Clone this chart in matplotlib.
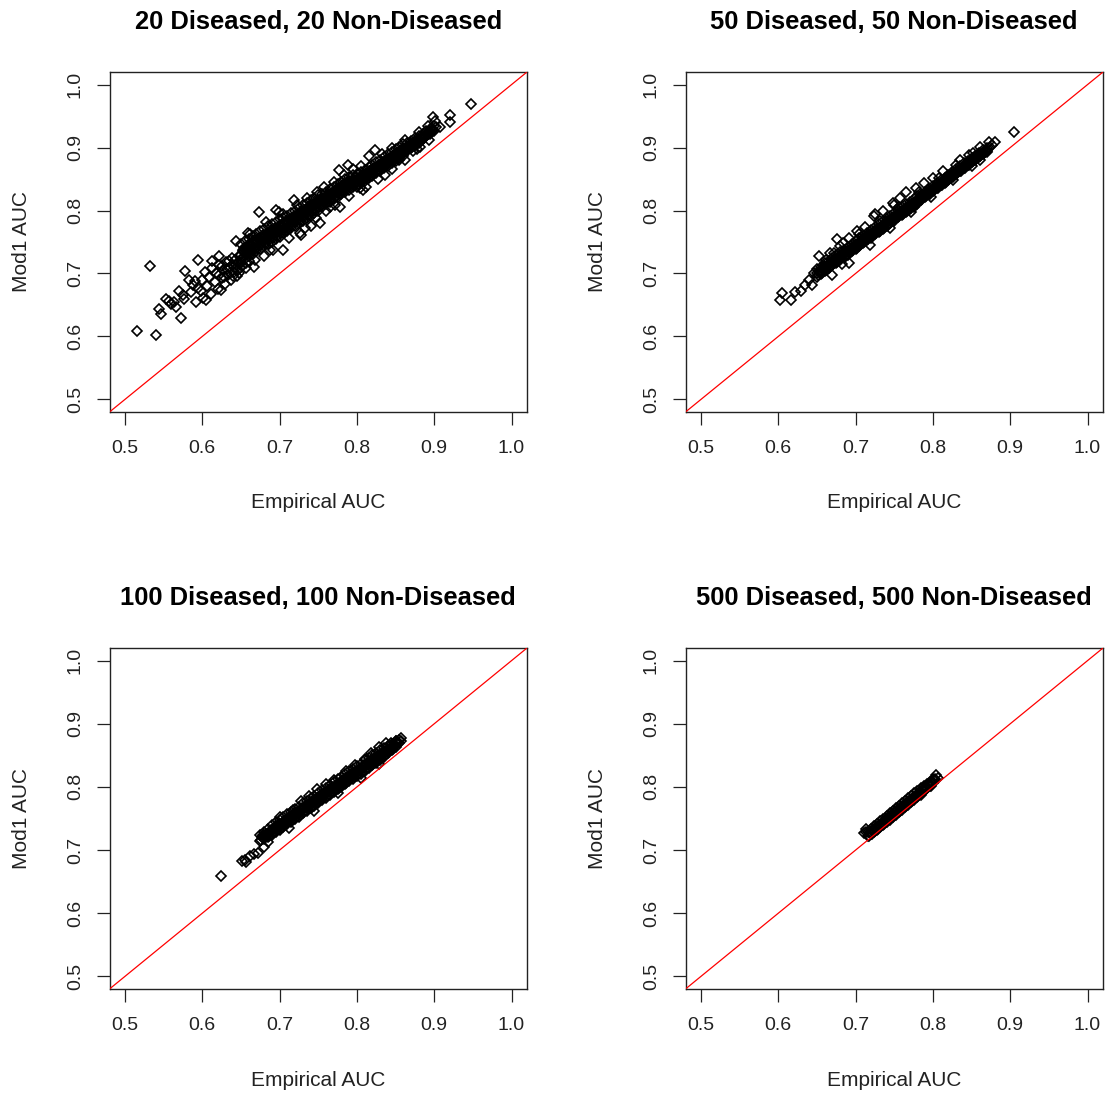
import numpy as np
import matplotlib
matplotlib.use("Agg")
import matplotlib.pyplot as plt

plt.rcParams['font.family'] = ['Liberation Sans', 'DejaVu Sans']

# (empirical AUC, Mod1 AUC) pairs per sample size
auc_20 = [
    (0.515, 0.609), (0.532, 0.712), (0.540, 0.602), (0.544, 0.644), (0.547, 0.636),
    (0.553, 0.660), (0.557, 0.657), (0.559, 0.652), (0.563, 0.655), (0.566, 0.647),
    (0.570, 0.672), (0.573, 0.630), (0.575, 0.666), (0.577, 0.660), (0.578, 0.704),
    (0.583, 0.690), (0.585, 0.671), (0.588, 0.681), (0.590, 0.688), (0.592, 0.655),
    (0.594, 0.677), (0.595, 0.721), (0.598, 0.672), (0.600, 0.690), (0.601, 0.661),
    (0.603, 0.703), (0.605, 0.658), (0.606, 0.680), (0.609, 0.695), (0.611, 0.668),
    (0.612, 0.720), (0.613, 0.708), (0.616, 0.687), (0.618, 0.700), (0.620, 0.676),
    (0.622, 0.727), (0.622, 0.714), (0.624, 0.674), (0.625, 0.693), (0.627, 0.705),
    (0.629, 0.684), (0.631, 0.718), (0.633, 0.698), (0.635, 0.709), (0.637, 0.690),
    (0.639, 0.724), (0.641, 0.703), (0.643, 0.714), (0.644, 0.751), (0.645, 0.696),
    (0.646, 0.706), (0.647, 0.728), (0.649, 0.709), (0.657, 0.709), (0.659, 0.764),
    (0.667, 0.711), (0.673, 0.798), (0.680, 0.727), (0.691, 0.738), (0.696, 0.801),
    (0.699, 0.798), (0.704, 0.738), (0.718, 0.817), (0.726, 0.764), (0.728, 0.761),
    (0.741, 0.775), (0.752, 0.780), (0.765, 0.806), (0.777, 0.865), (0.778, 0.806),
    (0.788, 0.873), (0.804, 0.836), (0.808, 0.833), (0.816, 0.887), (0.824, 0.896),
    (0.836, 0.857), (0.855, 0.880), (0.873, 0.894), (0.881, 0.901), (0.899, 0.948),
    (0.907, 0.933), (0.901, 0.942), (0.921, 0.952), (0.921, 0.940), (0.948, 0.969),
    (0.621, 0.697), (0.626, 0.712), (0.628, 0.694), (0.632, 0.707), (0.634, 0.720),
    (0.636, 0.700), (0.638, 0.713), (0.640, 0.696), (0.642, 0.722), (0.644, 0.708),
    (0.646, 0.717), (0.648, 0.700), (0.652, 0.712), (0.654, 0.726), (0.656, 0.716),
    (0.658, 0.731), (0.661, 0.720), (0.663, 0.737),
    (0.662, 0.762), (0.683, 0.782), (0.705, 0.795), (0.722, 0.808), (0.735, 0.820),
    (0.748, 0.829), (0.758, 0.838), (0.770, 0.846), (0.783, 0.857), (0.795, 0.866),
    (0.805, 0.870), (0.832, 0.889), (0.846, 0.900), (0.862, 0.912), (0.880, 0.924),
    (0.892, 0.935), (0.668, 0.722), (0.688, 0.738), (0.712, 0.757), (0.733, 0.773),
    (0.747, 0.788), (0.760, 0.800), (0.772, 0.809), (0.790, 0.823), (0.812, 0.838),
    (0.827, 0.850), (0.845, 0.866), (0.862, 0.880), (0.878, 0.897), (0.893, 0.912),
    (0.650, 0.719), (0.6525, 0.735), (0.650, 0.747), (0.655, 0.723), (0.6575, 0.739), (0.655, 0.751),
    (0.660, 0.727), (0.6625, 0.743), (0.660, 0.755), (0.665, 0.731), (0.6675, 0.747), (0.665, 0.759),
    (0.670, 0.735), (0.6725, 0.751), (0.670, 0.763), (0.675, 0.739), (0.6775, 0.755), (0.675, 0.767),
    (0.680, 0.743), (0.6825, 0.759), (0.680, 0.771), (0.685, 0.747), (0.6875, 0.763), (0.685, 0.775),
    (0.690, 0.750), (0.6925, 0.766), (0.690, 0.778), (0.695, 0.754), (0.6975, 0.770), (0.695, 0.782),
    (0.700, 0.758), (0.7025, 0.774), (0.700, 0.786), (0.705, 0.764), (0.7075, 0.778), (0.705, 0.788),
    (0.710, 0.768), (0.7125, 0.782), (0.710, 0.792), (0.715, 0.772), (0.7175, 0.786), (0.715, 0.796),
    (0.720, 0.776), (0.7225, 0.790), (0.720, 0.800), (0.725, 0.780), (0.7275, 0.794), (0.725, 0.804),
    (0.730, 0.784), (0.7325, 0.798), (0.730, 0.808), (0.735, 0.788), (0.7375, 0.802), (0.735, 0.812),
    (0.740, 0.792), (0.7425, 0.806), (0.740, 0.816), (0.745, 0.796), (0.7475, 0.810), (0.745, 0.820),
    (0.750, 0.800), (0.7525, 0.814), (0.750, 0.824), (0.755, 0.806), (0.7575, 0.818), (0.755, 0.826),
    (0.760, 0.810), (0.7625, 0.822), (0.760, 0.830), (0.765, 0.814), (0.7675, 0.826), (0.765, 0.834),
    (0.770, 0.818), (0.7725, 0.830), (0.770, 0.838), (0.775, 0.822), (0.7775, 0.834), (0.775, 0.842),
    (0.780, 0.826), (0.7825, 0.838), (0.780, 0.846), (0.785, 0.830), (0.7875, 0.842), (0.785, 0.850),
    (0.790, 0.833), (0.7925, 0.845), (0.790, 0.853), (0.795, 0.837), (0.7975, 0.849), (0.795, 0.857),
    (0.800, 0.838), (0.8025, 0.850), (0.800, 0.858), (0.805, 0.843), (0.8075, 0.854), (0.805, 0.861),
    (0.810, 0.847), (0.8125, 0.858), (0.810, 0.865), (0.815, 0.851), (0.8175, 0.862), (0.815, 0.869),
    (0.820, 0.855), (0.8225, 0.866), (0.820, 0.873), (0.825, 0.859), (0.8275, 0.870), (0.825, 0.877),
    (0.830, 0.863), (0.8325, 0.874), (0.830, 0.881), (0.835, 0.867), (0.8375, 0.878), (0.835, 0.885),
    (0.840, 0.871), (0.8425, 0.882), (0.840, 0.889), (0.845, 0.875), (0.8475, 0.886), (0.845, 0.893),
    (0.850, 0.879), (0.8525, 0.890), (0.850, 0.897), (0.855, 0.883), (0.8575, 0.894), (0.855, 0.901),
    (0.860, 0.887), (0.8625, 0.898), (0.860, 0.905), (0.865, 0.895), (0.8675, 0.903), (0.865, 0.907),
    (0.870, 0.899), (0.8725, 0.907), (0.870, 0.911), (0.875, 0.903), (0.8775, 0.911), (0.875, 0.915),
    (0.880, 0.907), (0.8825, 0.915), (0.880, 0.919), (0.885, 0.913), (0.8875, 0.919), (0.885, 0.921),
    (0.890, 0.918), (0.8925, 0.924), (0.890, 0.926), (0.895, 0.922), (0.8975, 0.928), (0.895, 0.930),
    (0.900, 0.926), (0.9025, 0.932), (0.900, 0.934),
    (0.6513, 0.725), (0.6538, 0.741), (0.6563, 0.729), (0.6588, 0.745), (0.6613, 0.733), (0.6638, 0.749),
    (0.6663, 0.737), (0.6688, 0.753), (0.6713, 0.741), (0.6738, 0.757), (0.6763, 0.745), (0.6788, 0.761),
    (0.6813, 0.749), (0.6838, 0.765), (0.6863, 0.753), (0.6888, 0.769), (0.6913, 0.756), (0.6938, 0.772),
    (0.6963, 0.760), (0.6988, 0.776), (0.7013, 0.764), (0.7038, 0.780), (0.7063, 0.769), (0.7088, 0.783),
    (0.7113, 0.773), (0.7138, 0.787), (0.7163, 0.777), (0.7188, 0.791), (0.7213, 0.781), (0.7238, 0.795),
    (0.7263, 0.785), (0.7288, 0.799), (0.7313, 0.789), (0.7338, 0.803), (0.7363, 0.793), (0.7388, 0.807),
    (0.7413, 0.797), (0.7438, 0.811), (0.7463, 0.801), (0.7488, 0.815), (0.7513, 0.805), (0.7538, 0.819),
    (0.7563, 0.810), (0.7588, 0.822), (0.7613, 0.814), (0.7638, 0.826), (0.7663, 0.818), (0.7688, 0.830),
    (0.7713, 0.822), (0.7738, 0.834), (0.7763, 0.826), (0.7788, 0.838), (0.7813, 0.830), (0.7838, 0.842),
    (0.7863, 0.834), (0.7888, 0.846), (0.7913, 0.837), (0.7938, 0.849), (0.7963, 0.841), (0.7988, 0.853),
    (0.8013, 0.842), (0.8038, 0.854), (0.8063, 0.847), (0.8088, 0.857), (0.8113, 0.851), (0.8138, 0.861),
    (0.8163, 0.855), (0.8188, 0.865), (0.8213, 0.859), (0.8238, 0.869), (0.8263, 0.863), (0.8288, 0.873),
    (0.8313, 0.867), (0.8338, 0.877), (0.8363, 0.871), (0.8388, 0.881), (0.8413, 0.875), (0.8438, 0.885),
    (0.8463, 0.879), (0.8488, 0.889), (0.8513, 0.883), (0.8538, 0.893), (0.8563, 0.887), (0.8588, 0.897),
    (0.8613, 0.891), (0.8638, 0.901), (0.8663, 0.897), (0.8688, 0.905), (0.8713, 0.901), (0.8738, 0.909),
    (0.8763, 0.905), (0.8788, 0.913), (0.8813, 0.909), (0.8838, 0.917), (0.8863, 0.915), (0.8888, 0.919),
    (0.8913, 0.920), (0.8938, 0.924), (0.8963, 0.924), (0.8988, 0.928),
    (0.6506, 0.729), (0.6531, 0.738), (0.6556, 0.733), (0.6581, 0.742), (0.6606, 0.737), (0.6631, 0.746),
    (0.6656, 0.741), (0.6681, 0.750), (0.6706, 0.745), (0.6731, 0.754), (0.6756, 0.749), (0.6781, 0.758),
    (0.6806, 0.753), (0.6831, 0.762), (0.6856, 0.757), (0.6881, 0.766), (0.6906, 0.760), (0.6931, 0.769),
    (0.6956, 0.764), (0.6981, 0.773), (0.7006, 0.768), (0.7031, 0.777), (0.7056, 0.772), (0.7081, 0.781),
    (0.7106, 0.776), (0.7131, 0.785), (0.7156, 0.780), (0.7181, 0.789), (0.7206, 0.784), (0.7231, 0.793),
    (0.7256, 0.788), (0.7281, 0.797), (0.7306, 0.792), (0.7331, 0.801), (0.7356, 0.796), (0.7381, 0.805),
    (0.7406, 0.800), (0.7431, 0.809), (0.7456, 0.804), (0.7481, 0.813), (0.7506, 0.808), (0.7531, 0.817),
    (0.7556, 0.813), (0.7581, 0.820), (0.7606, 0.817), (0.7631, 0.824), (0.7656, 0.821), (0.7681, 0.828),
    (0.7706, 0.825), (0.7731, 0.832), (0.7756, 0.829), (0.7781, 0.836), (0.7806, 0.833), (0.7831, 0.840),
    (0.7856, 0.837), (0.7881, 0.844), (0.7906, 0.840), (0.7931, 0.847), (0.7956, 0.844), (0.7981, 0.851),
    (0.8006, 0.845), (0.8031, 0.852), (0.8056, 0.849), (0.8081, 0.856), (0.8106, 0.853), (0.8131, 0.860),
    (0.8156, 0.857), (0.8181, 0.864), (0.8206, 0.861), (0.8231, 0.868), (0.8256, 0.865), (0.8281, 0.872),
    (0.8306, 0.869), (0.8331, 0.876), (0.8356, 0.873), (0.8381, 0.880), (0.8406, 0.877), (0.8431, 0.884),
    (0.8456, 0.881), (0.8481, 0.888), (0.8506, 0.885), (0.8531, 0.892), (0.8556, 0.889), (0.8581, 0.896),
    (0.8606, 0.893), (0.8631, 0.900), (0.8656, 0.899), (0.8681, 0.904), (0.8706, 0.903), (0.8731, 0.908),
    (0.8756, 0.907), (0.8781, 0.912),
]

auc_50 = [
    (0.602, 0.658), (0.605, 0.669), (0.617, 0.658), (0.621, 0.670), (0.630, 0.672),
    (0.635, 0.682), (0.640, 0.690), (0.643, 0.681), (0.646, 0.700), (0.653, 0.728),
    (0.659, 0.712), (0.662, 0.722), (0.667, 0.732), (0.670, 0.698), (0.676, 0.755),
    (0.680, 0.744), (0.684, 0.748), (0.691, 0.716), (0.691, 0.757), (0.702, 0.767),
    (0.712, 0.774), (0.724, 0.792), (0.725, 0.795), (0.735, 0.800), (0.748, 0.812),
    (0.750, 0.809), (0.758, 0.820), (0.765, 0.829), (0.778, 0.836), (0.788, 0.843),
    (0.800, 0.852), (0.813, 0.862), (0.835, 0.880), (0.847, 0.888), (0.861, 0.901),
    (0.861, 0.880), (0.870, 0.893), (0.873, 0.909), (0.877, 0.904), (0.880, 0.909),
    (0.905, 0.925),
    (0.672, 0.733), (0.705, 0.762), (0.732, 0.784), (0.756, 0.806), (0.782, 0.829),
    (0.808, 0.851), (0.830, 0.872), (0.852, 0.891), (0.683, 0.715), (0.718, 0.746),
    (0.745, 0.772), (0.772, 0.797), (0.798, 0.822), (0.826, 0.848), (0.850, 0.870),
    (0.650, 0.695), (0.6525, 0.703), (0.650, 0.707), (0.655, 0.699), (0.6575, 0.707), (0.655, 0.711),
    (0.660, 0.704), (0.6625, 0.712), (0.660, 0.716), (0.665, 0.708), (0.6675, 0.716), (0.665, 0.720),
    (0.670, 0.713), (0.6725, 0.721), (0.670, 0.725), (0.675, 0.717), (0.6775, 0.725), (0.675, 0.729),
    (0.680, 0.722), (0.6825, 0.730), (0.680, 0.734), (0.685, 0.726), (0.6875, 0.734), (0.685, 0.738),
    (0.690, 0.730), (0.6925, 0.738), (0.690, 0.742), (0.695, 0.735), (0.6975, 0.743), (0.695, 0.747),
    (0.700, 0.739), (0.7025, 0.747), (0.700, 0.751), (0.705, 0.744), (0.7075, 0.752), (0.705, 0.756),
    (0.710, 0.748), (0.7125, 0.756), (0.710, 0.760), (0.715, 0.753), (0.7175, 0.761), (0.715, 0.765),
    (0.720, 0.757), (0.7225, 0.765), (0.720, 0.769), (0.725, 0.762), (0.7275, 0.770), (0.725, 0.774),
    (0.730, 0.766), (0.7325, 0.774), (0.730, 0.778), (0.735, 0.771), (0.7375, 0.779), (0.735, 0.783),
    (0.740, 0.775), (0.7425, 0.783), (0.740, 0.787), (0.745, 0.780), (0.7475, 0.788), (0.745, 0.792),
    (0.750, 0.784), (0.7525, 0.792), (0.750, 0.796), (0.755, 0.789), (0.7575, 0.797), (0.755, 0.801),
    (0.760, 0.793), (0.7625, 0.801), (0.760, 0.805), (0.765, 0.798), (0.7675, 0.806), (0.765, 0.810),
    (0.770, 0.802), (0.7725, 0.810), (0.770, 0.814), (0.775, 0.806), (0.7775, 0.814), (0.775, 0.818),
    (0.780, 0.811), (0.7825, 0.819), (0.780, 0.823), (0.785, 0.817), (0.7875, 0.823), (0.785, 0.825),
    (0.790, 0.822), (0.7925, 0.828), (0.790, 0.830), (0.795, 0.826), (0.7975, 0.832), (0.795, 0.834),
    (0.800, 0.831), (0.8025, 0.837), (0.800, 0.839), (0.805, 0.835), (0.8075, 0.841), (0.805, 0.843),
    (0.810, 0.840), (0.8125, 0.846), (0.810, 0.848), (0.815, 0.844), (0.8175, 0.850), (0.815, 0.852),
    (0.820, 0.849), (0.8225, 0.855), (0.820, 0.857), (0.825, 0.853), (0.8275, 0.859), (0.825, 0.861),
    (0.830, 0.858), (0.8325, 0.864), (0.830, 0.866), (0.835, 0.862), (0.8375, 0.868), (0.835, 0.870),
    (0.840, 0.867), (0.8425, 0.873), (0.840, 0.875), (0.845, 0.872), (0.8475, 0.877), (0.845, 0.878),
    (0.850, 0.877), (0.8525, 0.882), (0.850, 0.883), (0.855, 0.881), (0.8575, 0.886), (0.855, 0.887),
    (0.860, 0.885), (0.8625, 0.890), (0.860, 0.891), (0.865, 0.890), (0.8675, 0.895), (0.865, 0.896),
    (0.870, 0.894), (0.8725, 0.899), (0.870, 0.900),
    (0.6513, 0.697), (0.6538, 0.705), (0.6563, 0.701), (0.6588, 0.709), (0.6613, 0.706), (0.6638, 0.714),
    (0.6663, 0.710), (0.6688, 0.718), (0.6713, 0.715), (0.6738, 0.723), (0.6763, 0.719), (0.6788, 0.727),
    (0.6813, 0.724), (0.6838, 0.732), (0.6863, 0.728), (0.6888, 0.736), (0.6913, 0.732), (0.6938, 0.740),
    (0.6963, 0.737), (0.6988, 0.745), (0.7013, 0.741), (0.7038, 0.749), (0.7063, 0.746), (0.7088, 0.754),
    (0.7113, 0.750), (0.7138, 0.758), (0.7163, 0.755), (0.7188, 0.763), (0.7213, 0.759), (0.7238, 0.767),
    (0.7263, 0.764), (0.7288, 0.772), (0.7313, 0.768), (0.7338, 0.776), (0.7363, 0.773), (0.7388, 0.781),
    (0.7413, 0.777), (0.7438, 0.785), (0.7463, 0.782), (0.7488, 0.790), (0.7513, 0.786), (0.7538, 0.794),
    (0.7563, 0.791), (0.7588, 0.799), (0.7613, 0.795), (0.7638, 0.803), (0.7663, 0.800), (0.7688, 0.808),
    (0.7713, 0.804), (0.7738, 0.812), (0.7763, 0.808), (0.7788, 0.816), (0.7813, 0.813), (0.7838, 0.821),
    (0.7863, 0.818), (0.7888, 0.824), (0.7913, 0.823), (0.7938, 0.829), (0.7963, 0.827), (0.7988, 0.833),
    (0.8013, 0.832), (0.8038, 0.838), (0.8063, 0.836), (0.8088, 0.842), (0.8113, 0.841), (0.8138, 0.847),
    (0.8163, 0.845), (0.8188, 0.851), (0.8213, 0.850), (0.8238, 0.856), (0.8263, 0.854), (0.8288, 0.860),
    (0.8313, 0.859), (0.8338, 0.865), (0.8363, 0.863), (0.8388, 0.869), (0.8413, 0.868), (0.8438, 0.874),
    (0.8463, 0.873), (0.8488, 0.877), (0.8513, 0.878), (0.8538, 0.882), (0.8563, 0.882), (0.8588, 0.886),
    (0.8613, 0.886), (0.8638, 0.890), (0.8663, 0.891), (0.8688, 0.895),
    (0.6506, 0.700), (0.6556, 0.704), (0.6606, 0.709), (0.6656, 0.713), (0.6706, 0.718), (0.6756, 0.722),
    (0.6806, 0.727), (0.6856, 0.731), (0.6906, 0.735), (0.6956, 0.740), (0.7006, 0.744), (0.7056, 0.749),
    (0.7106, 0.753), (0.7156, 0.758), (0.7206, 0.762), (0.7256, 0.767), (0.7306, 0.771), (0.7356, 0.776),
    (0.7406, 0.780), (0.7456, 0.785), (0.7506, 0.789), (0.7556, 0.794), (0.7606, 0.798), (0.7656, 0.803),
    (0.7706, 0.807), (0.7756, 0.811), (0.7806, 0.816), (0.7856, 0.820), (0.7906, 0.825), (0.7956, 0.829),
    (0.8006, 0.834), (0.8056, 0.838), (0.8106, 0.843), (0.8156, 0.847), (0.8206, 0.852), (0.8256, 0.856),
    (0.8306, 0.861), (0.8356, 0.865), (0.8406, 0.870), (0.8456, 0.874), (0.8506, 0.879), (0.8556, 0.883),
    (0.8606, 0.887), (0.8656, 0.892),
]

auc_100 = [
    (0.624, 0.659), (0.652, 0.682), (0.655, 0.684), (0.657, 0.681), (0.662, 0.690),
    (0.667, 0.693), (0.672, 0.695), (0.678, 0.724), (0.680, 0.705), (0.685, 0.712),
    (0.696, 0.738), (0.717, 0.764), (0.728, 0.777), (0.749, 0.796), (0.771, 0.811),
    (0.797, 0.835), (0.810, 0.845), (0.829, 0.864), (0.844, 0.869), (0.851, 0.872),
    (0.857, 0.877),
    (0.700, 0.752), (0.738, 0.786), (0.760, 0.804), (0.786, 0.826), (0.818, 0.853),
    (0.838, 0.869), (0.712, 0.735), (0.745, 0.762), (0.776, 0.790), (0.805, 0.814),
    (0.828, 0.836),
    (0.675, 0.714), (0.6775, 0.721), (0.675, 0.724), (0.680, 0.717), (0.6825, 0.725), (0.680, 0.729),
    (0.685, 0.720), (0.6875, 0.729), (0.685, 0.734), (0.690, 0.724), (0.6925, 0.734), (0.690, 0.740),
    (0.695, 0.728), (0.6975, 0.738), (0.695, 0.744), (0.700, 0.732), (0.7025, 0.742), (0.700, 0.748),
    (0.705, 0.736), (0.7075, 0.746), (0.705, 0.752), (0.710, 0.741), (0.7125, 0.751), (0.710, 0.757),
    (0.715, 0.745), (0.7175, 0.755), (0.715, 0.761), (0.720, 0.749), (0.7225, 0.759), (0.720, 0.765),
    (0.725, 0.753), (0.7275, 0.763), (0.725, 0.769), (0.730, 0.758), (0.7325, 0.768), (0.730, 0.774),
    (0.735, 0.762), (0.7375, 0.772), (0.735, 0.778), (0.740, 0.766), (0.7425, 0.776), (0.740, 0.782),
    (0.745, 0.770), (0.7475, 0.780), (0.745, 0.786), (0.750, 0.775), (0.7525, 0.785), (0.750, 0.791),
    (0.755, 0.779), (0.7575, 0.789), (0.755, 0.795), (0.760, 0.783), (0.7625, 0.793), (0.760, 0.799),
    (0.765, 0.787), (0.7675, 0.797), (0.765, 0.803), (0.770, 0.792), (0.7725, 0.802), (0.770, 0.808),
    (0.775, 0.796), (0.7775, 0.806), (0.775, 0.812), (0.780, 0.800), (0.7825, 0.810), (0.780, 0.816),
    (0.785, 0.804), (0.7875, 0.814), (0.785, 0.820), (0.790, 0.809), (0.7925, 0.819), (0.790, 0.825),
    (0.795, 0.813), (0.7975, 0.823), (0.795, 0.829), (0.800, 0.817), (0.8025, 0.827), (0.800, 0.833),
    (0.805, 0.821), (0.8075, 0.831), (0.805, 0.837), (0.810, 0.826), (0.8125, 0.836), (0.810, 0.842),
    (0.815, 0.830), (0.8175, 0.840), (0.815, 0.846), (0.820, 0.834), (0.8225, 0.844), (0.820, 0.850),
    (0.825, 0.838), (0.8275, 0.848), (0.825, 0.854), (0.830, 0.843), (0.8325, 0.853), (0.830, 0.859),
    (0.835, 0.848), (0.8375, 0.857), (0.835, 0.862), (0.840, 0.853), (0.8425, 0.861), (0.840, 0.865),
    (0.845, 0.858), (0.8475, 0.865), (0.845, 0.868), (0.850, 0.864), (0.8525, 0.870), (0.850, 0.872),
    (0.855, 0.869), (0.8575, 0.873), (0.855, 0.875),
    (0.6763, 0.716), (0.6788, 0.722), (0.6813, 0.720), (0.6838, 0.726), (0.6863, 0.723), (0.6888, 0.731),
    (0.6913, 0.727), (0.6938, 0.737), (0.6963, 0.731), (0.6988, 0.741), (0.7013, 0.735), (0.7038, 0.745),
    (0.7063, 0.739), (0.7088, 0.749), (0.7113, 0.744), (0.7138, 0.754), (0.7163, 0.748), (0.7188, 0.758),
    (0.7213, 0.752), (0.7238, 0.762), (0.7263, 0.756), (0.7288, 0.766), (0.7313, 0.761), (0.7338, 0.771),
    (0.7363, 0.765), (0.7388, 0.775), (0.7413, 0.769), (0.7438, 0.779), (0.7463, 0.773), (0.7488, 0.783),
    (0.7513, 0.778), (0.7538, 0.788), (0.7563, 0.782), (0.7588, 0.792), (0.7613, 0.786), (0.7638, 0.796),
    (0.7663, 0.790), (0.7688, 0.800), (0.7713, 0.795), (0.7738, 0.805), (0.7763, 0.799), (0.7788, 0.809),
    (0.7813, 0.803), (0.7838, 0.813), (0.7863, 0.807), (0.7888, 0.817), (0.7913, 0.812), (0.7938, 0.822),
    (0.7963, 0.816), (0.7988, 0.826), (0.8013, 0.820), (0.8038, 0.830), (0.8063, 0.824), (0.8088, 0.834),
    (0.8113, 0.829), (0.8138, 0.839), (0.8163, 0.833), (0.8188, 0.843), (0.8213, 0.837), (0.8238, 0.847),
    (0.8263, 0.841), (0.8288, 0.851), (0.8313, 0.846), (0.8338, 0.856), (0.8363, 0.851), (0.8388, 0.859),
    (0.8413, 0.856), (0.8438, 0.862), (0.8463, 0.860), (0.8488, 0.866),
    (0.6806, 0.721), (0.6856, 0.725), (0.6906, 0.730), (0.6956, 0.734), (0.7006, 0.738), (0.7056, 0.742),
    (0.7106, 0.747), (0.7156, 0.751), (0.7206, 0.755), (0.7256, 0.759), (0.7306, 0.764), (0.7356, 0.768),
    (0.7406, 0.772), (0.7456, 0.776), (0.7506, 0.781), (0.7556, 0.785), (0.7606, 0.789), (0.7656, 0.793),
    (0.7706, 0.798), (0.7756, 0.802), (0.7806, 0.806), (0.7856, 0.810), (0.7906, 0.815), (0.7956, 0.819),
    (0.8006, 0.823), (0.8056, 0.827), (0.8106, 0.832), (0.8156, 0.836), (0.8206, 0.840), (0.8256, 0.844),
    (0.8306, 0.849), (0.8356, 0.853), (0.8406, 0.857), (0.8456, 0.861),
]

auc_500 = [
    (0.711, 0.727), (0.713, 0.733), (0.714, 0.729), (0.803, 0.812), (0.804, 0.819), (0.806, 0.814),
    (0.716, 0.722), (0.718, 0.727), (0.716, 0.728), (0.720, 0.725), (0.722, 0.731), (0.720, 0.733),
    (0.724, 0.728), (0.726, 0.735), (0.724, 0.738), (0.728, 0.732), (0.730, 0.739), (0.728, 0.742),
    (0.732, 0.736), (0.734, 0.743), (0.732, 0.746), (0.736, 0.740), (0.738, 0.747), (0.736, 0.750),
    (0.740, 0.744), (0.742, 0.751), (0.740, 0.754), (0.744, 0.748), (0.746, 0.755), (0.744, 0.758),
    (0.748, 0.752), (0.750, 0.759), (0.748, 0.762), (0.752, 0.756), (0.754, 0.763), (0.752, 0.766),
    (0.756, 0.760), (0.758, 0.767), (0.756, 0.770), (0.760, 0.764), (0.762, 0.771), (0.760, 0.774),
    (0.764, 0.768), (0.766, 0.775), (0.764, 0.778), (0.768, 0.772), (0.770, 0.779), (0.768, 0.782),
    (0.772, 0.776), (0.774, 0.783), (0.772, 0.786), (0.776, 0.780), (0.778, 0.787), (0.776, 0.790),
    (0.780, 0.784), (0.782, 0.791), (0.780, 0.794), (0.784, 0.788), (0.786, 0.795), (0.784, 0.798),
    (0.788, 0.793), (0.790, 0.799), (0.788, 0.801), (0.792, 0.798), (0.794, 0.803), (0.792, 0.804),
    (0.796, 0.802), (0.798, 0.807), (0.796, 0.808), (0.800, 0.806), (0.802, 0.811), (0.800, 0.812),
    (0.717, 0.722), (0.719, 0.728), (0.721, 0.726), (0.723, 0.732), (0.725, 0.730), (0.727, 0.736),
    (0.729, 0.734), (0.731, 0.740), (0.733, 0.738), (0.735, 0.744), (0.737, 0.742), (0.739, 0.748),
    (0.741, 0.746), (0.743, 0.752), (0.745, 0.750), (0.747, 0.756), (0.749, 0.754), (0.751, 0.760),
    (0.753, 0.758), (0.755, 0.764), (0.757, 0.762), (0.759, 0.768), (0.761, 0.766), (0.763, 0.772),
    (0.765, 0.770), (0.767, 0.776), (0.769, 0.774), (0.771, 0.780), (0.773, 0.778), (0.775, 0.784),
    (0.777, 0.782), (0.779, 0.788), (0.781, 0.786), (0.783, 0.792), (0.785, 0.790), (0.787, 0.796),
    (0.789, 0.794), (0.791, 0.800), (0.793, 0.798), (0.795, 0.804), (0.797, 0.802), (0.799, 0.808),
]

panel_data = [auc_20, auc_50, auc_100, auc_500]
panel_titles = [
    "20 Diseased, 20 Non-Diseased",
    "50 Diseased, 50 Non-Diseased",
    "100 Diseased, 100 Non-Diseased",
    "500 Diseased, 500 Non-Diseased",
]
tick_values = [0.5, 0.6, 0.7, 0.8, 0.9, 1.0]
tick_labels = ["0.5", "0.6", "0.7", "0.8", "0.9", "1.0"]
x_label = "Empirical AUC"
y_label = "Mod1 AUC"

W, H = 1109, 1097
fig = plt.figure(figsize=(W / 100, H / 100), dpi=100)

# panel boxes in pixels: (left, top, right, bottom)
boxes = [
    (109.5, 72, 527, 412),
    (685.5, 72, 1103, 412),
    (109.5, 648, 527, 989),
    (685.5, 648, 1103, 989),
]

for (l, t, r, b), pairs, title in zip(boxes, panel_data, panel_titles):
    ax = fig.add_axes([l / W, 1 - b / H, (r - l) / W, (b - t) / H])
    emp, mod = np.array(pairs).T
    ax.plot(emp, mod, linestyle='none', marker='D', ms=5.4,
            mfc='none', mec='black', mew=1.2, antialiased=False, zorder=2)
    ax.axline((0.5, 0.5), slope=1, color='red', lw=0.9, zorder=3)
    ax.set_xlim(0.48, 1.02)
    ax.set_ylim(0.48, 1.02)
    ax.set_xticks(tick_values)
    ax.set_xticklabels(tick_labels)
    ax.set_yticks(tick_values)
    ax.set_yticklabels(tick_labels, rotation=90, va='center')
    ax.tick_params(axis='both', direction='out', length=9.4, width=0.9,
                   labelsize=14, color='#222222', labelcolor='#222222')
    ax.tick_params(axis='x', pad=11)
    ax.tick_params(axis='y', pad=9)
    for sp in ax.spines.values():
        sp.set_linewidth(1.0)
        sp.set_color('#222222')
    bw, bh = r - l, b - t
    ax.set_xlabel(x_label, fontsize=15, va='center', color='#222222')
    ax.xaxis.set_label_coords(0.5, -91 / bh)
    ax.set_ylabel(y_label, fontsize=15, va='center', color='#222222')
    ax.yaxis.set_label_coords(-88 / bw, 0.5)
    ax.set_title(title, fontsize=18.4, fontweight='bold', y=1 + 50 / bh,
                 va='center', pad=0)

fig.savefig("out.png", dpi=100)
